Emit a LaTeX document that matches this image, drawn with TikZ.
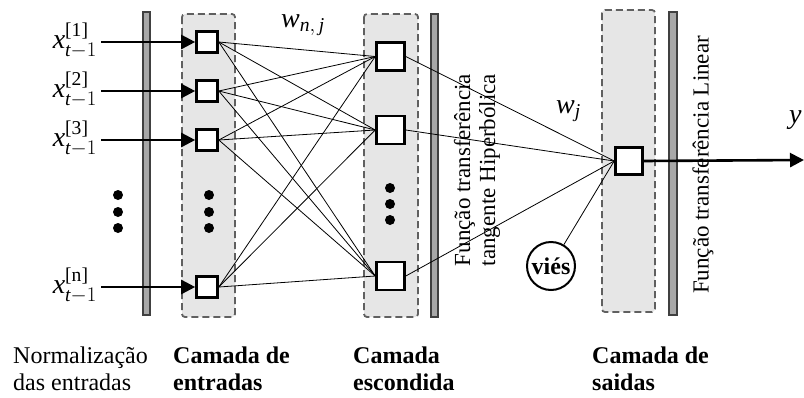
\documentclass[tikz,border=0pt]{standalone}
\usepackage{amsmath}
\usepackage{fontspec}
\setmainfont{Liberation Serif}
\usetikzlibrary{arrows.meta}
\definecolor{boxfill}{HTML}{E6E6E6}
\definecolor{dashcol}{HTML}{606060}
\definecolor{barfill}{HTML}{A8A8A8}
\definecolor{bardraw}{HTML}{404040}
\newcommand{\xlab}[1]{\fontsize{28}{30}\selectfont$\textit{x}^{\text{[#1]}}_{\textit{t}-1}$}
\begin{document}
\begin{tikzpicture}[x=1pt,y=-1pt,
  layerbox/.style={draw=dashcol, fill=boxfill, dash pattern=on 7pt off 4pt, line width=1.8pt, rounded corners=3pt},
  normbar/.style={draw=bardraw, fill=barfill, line width=1.3pt},
  neuron/.style={draw, fill=white, line width=2.6pt, inner sep=0pt},
  inarrow/.style={line width=2.6pt, -{Triangle[length=14pt,width=14pt]}},
  wire/.style={line width=0.8pt},
  dotmark/.style={circle, fill=black, inner sep=0pt, minimum size=10pt},
  xlabel/.style={anchor=east, inner sep=0pt},
  rotlab/.style={rotate=90, align=center, font=\fontsize{23}{25}\selectfont, inner sep=0pt},
  botlab/.style={anchor=base west, inner sep=0pt, font=\fontsize{24}{27}\selectfont},
  botbold/.style={anchor=base west, inner sep=0pt, font=\fontsize{24}{27}\selectfont\bfseries}
]
\useasboundingbox (0,0) rectangle (804,397);
\clip (0,0) rectangle (804,397);

% bars and layer boxes
\draw[normbar] (143,12) rectangle (150,315);
\draw[layerbox] (182,14) rectangle (235,317);
\draw[layerbox] (364,14) rectangle (418,317);
\draw[normbar] (431,14) rectangle (438,317);
\draw[layerbox] (602,10) rectangle (655,312);
\draw[normbar] (669,12) rectangle (677,315);

% input nodes
\node[neuron, minimum size=21pt] (i1) at (207,42) {};
\node[neuron, minimum size=21pt] (i2) at (207,91) {};
\node[neuron, minimum size=21pt] (i3) at (207,140) {};
\node[neuron, minimum size=21pt] (in) at (207,287) {};

% hidden nodes
\node[neuron, minimum size=28pt] (h1) at (390.5,56.5) {};
\node[neuron, minimum size=28pt] (h2) at (390.5,130) {};
\node[neuron, minimum size=28pt] (hn) at (390.5,276) {};

% output node
\node[neuron, minimum size=27pt] (o) at (629,161) {};

% bias
\node[circle, draw, line width=2pt, minimum size=48pt, inner sep=0pt,
      font=\fontsize{24}{26}\selectfont\bfseries] (vies) at (551,266) {viés};

% dots
\node[dotmark] (d1) at (118,195) {};
\node[dotmark] (d2) at (118,212) {};
\node[dotmark] (d3) at (118,228) {};
\node[dotmark] (d4) at (209,195) {};
\node[dotmark] (d5) at (209,212) {};
\node[dotmark] (d6) at (209,228) {};
\node[dotmark] (d7) at (390,188) {};
\node[dotmark] (d8) at (390,204) {};
\node[dotmark] (d9) at (390,220) {};

% input labels and arrows
\node[xlabel] (lx1) at (97,41) {\xlab{1}};
\node[xlabel] (lx2) at (97,90) {\xlab{2}};
\node[xlabel] (lx3) at (97,139) {\xlab{3}};
\node[xlabel] (lxn) at (97,286) {\xlab{n}};
\coordinate (s1) at (101,42);
\coordinate (s2) at (101,91);
\coordinate (s3) at (101,140);
\coordinate (sn) at (101,287);
\draw[inarrow] (s1) -- (i1.west);
\draw[inarrow] (s2) -- (i2.west);
\draw[inarrow] (s3) -- (i3.west);
\draw[inarrow] (sn) -- (in.west);

% input to hidden
\foreach \a in {i1,i2,i3,in}
  \foreach \b in {h1,h2,hn}
    \draw[wire] (\a.east) -- (\b.west);

% hidden to output
\foreach \b in {h1,h2,hn}
  \draw[wire] (\b.east) -- (o.west);
\draw[wire] (vies) -- (o.west);

% output arrow
\coordinate (yend) at (804,160);
\draw[inarrow] (o.east) -- (yend);
\node[anchor=base west, inner sep=0pt, font=\fontsize{28}{30}\selectfont\itshape] (ylab) at (789,123) {y};

% weights
\node[anchor=base west, inner sep=0pt, font=\fontsize{28}{30}\selectfont] (wnj) at (281,27) {$\textit{w}_{\textit{n},\,\textit{j}}$};
\node[anchor=base west, inner sep=0pt, font=\fontsize{28}{30}\selectfont] (wj) at (556,113) {$\textit{w}_{\textit{j}}$};

% rotated labels
\node[rotlab] (fth) at (477,170) {Função transferência\\tangente Hiperbólica};
\node[rotlab] (ftl) at (703,165) {Função transferência Linear};

% bottom labels
\node[botlab] (n1) at (13,363) {Normalização};
\node[botlab] (n2) at (13,390) {das entradas};
\node[botbold] (c1) at (173,363) {Camada de};
\node[botbold] (c2) at (173,390) {entradas};
\node[botbold] (e1) at (353,363) {Camada};
\node[botbold] (e2) at (353,390) {escondida};
\node[botbold] (s1l) at (592,363) {Camada de};
\node[botbold] (s2l) at (592,390) {saidas};
\end{tikzpicture}
\end{document}
